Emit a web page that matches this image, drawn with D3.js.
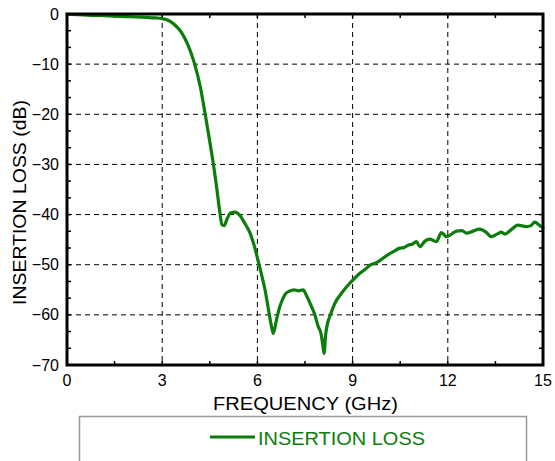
<!DOCTYPE html>
<html>
<head>
<meta charset="utf-8">
<script src="https://cdn.jsdelivr.net/npm/d3@7"></script>
<style>
html,body{margin:0;padding:0;background:#fff;}
svg{display:block;font-family:"Liberation Sans",Arial,sans-serif;}
</style>
</head>
<body>
<svg id="chart" width="555" height="461"></svg>
<script>
// Data (frequency in GHz, insertion loss in dB)
const freq = [0, 0.5, 1, 1.5, 2, 2.5, 2.8, 3, 3.2, 3.4, 3.6, 3.8, 4.0, 4.2, 4.35, 4.5, 4.61, 4.72, 4.82, 4.88, 4.95, 5.05, 5.15, 5.3, 5.45, 5.6, 5.77, 5.9, 6.03, 6.15, 6.24, 6.35, 6.45, 6.5, 6.6, 6.7, 6.8, 6.9, 7.0, 7.15, 7.3, 7.44, 7.55, 7.66, 7.81, 7.92, 8.0, 8.05, 8.1, 8.15, 8.2, 8.3, 8.44, 8.65, 8.91, 9.08, 9.23, 9.4, 9.55, 9.75, 9.96, 10.12, 10.28, 10.49, 10.62, 10.75, 10.88, 11.01, 11.12, 11.28, 11.43, 11.64, 11.8, 11.96, 12.12, 12.27, 12.45, 12.59, 12.8, 13.0, 13.2, 13.37, 13.55, 13.69, 13.79, 14.0, 14.21, 14.47, 14.62, 14.74, 14.9, 15.0];
const loss = [-0.05, -0.2, -0.3, -0.42, -0.55, -0.68, -0.78, -0.92, -1.3, -2.2, -3.6, -6.0, -9.5, -14.5, -19.8, -25.5, -29.8, -34.8, -39.7, -42.0, -42.2, -40.8, -39.7, -39.5, -40.2, -41.7, -43.7, -46.2, -49.4, -52.5, -55.0, -59.0, -62.5, -63.7, -61.0, -58.5, -56.8, -55.7, -55.3, -55.0, -55.2, -55.0, -56.2, -57.7, -60.0, -62.4, -63.6, -65.5, -67.7, -64.0, -62.0, -60.0, -57.7, -55.7, -53.7, -52.6, -51.7, -50.9, -50.1, -49.6, -48.7, -48.0, -47.4, -46.7, -46.6, -46.1, -45.9, -45.4, -46.4, -45.3, -44.9, -45.4, -43.6, -44.4, -43.9, -43.3, -43.2, -43.7, -43.3, -42.9, -43.5, -44.4, -43.9, -43.5, -43.9, -43.0, -42.1, -42.4, -42.2, -41.5, -42.2, -42.6];
const xTicks = [0, 3, 6, 9, 12, 15];
const yTicks = [0, -10, -20, -30, -40, -50, -60, -70];
const xTitle = "FREQUENCY (GHz)";
const yTitle = "INSERTION LOSS (dB)";
const seriesName = "INSERTION LOSS";

const svg = d3.select("#chart");
const L = 67, R = 543, T = 14, B = 365;
const x = d3.scaleLinear().domain([0, 15]).range([L, R]);
const y = d3.scaleLinear().domain([-70, 0]).range([B, T]);
const green = "#0b7d0b";

// grid
const g = svg.append("g");
g.selectAll(".vg").data(xTicks.filter(d => d > 0 && d < 15)).enter().append("line")
  .attr("x1", d => x(d)).attr("x2", d => x(d)).attr("y1", T).attr("y2", B)
  .attr("stroke", "#000").attr("stroke-width", 1).attr("stroke-dasharray", "5,4");
g.selectAll(".hg").data(yTicks.filter(d => d < 0 && d > -70)).enter().append("line")
  .attr("x1", L).attr("x2", R).attr("y1", d => y(d)).attr("y2", d => y(d))
  .attr("stroke", "#000").attr("stroke-width", 1).attr("stroke-dasharray", "5,4");

// minor ticks
const xMinor = d3.range(0, 15.01, 1.5);
const yMinor = d3.range(0, 71, 10 / 3).map(v => -v);
xMinor.forEach(v => {
  g.append("line").attr("x1", x(v)).attr("x2", x(v)).attr("y1", B).attr("y2", B - 4).attr("stroke", "#000").attr("stroke-width", 1.5);
  g.append("line").attr("x1", x(v)).attr("x2", x(v)).attr("y1", T).attr("y2", T + 4).attr("stroke", "#000").attr("stroke-width", 1.5);
});
yMinor.forEach(v => {
  g.append("line").attr("x1", L).attr("x2", L + 4).attr("y1", y(v)).attr("y2", y(v)).attr("stroke", "#000").attr("stroke-width", 1.5);
  g.append("line").attr("x1", R).attr("x2", R - 4).attr("y1", y(v)).attr("y2", y(v)).attr("stroke", "#000").attr("stroke-width", 1.5);
});

// line
const pts = freq.map((f, i) => [f, loss[i]]);
svg.append("path").datum(pts)
  .attr("d", d3.line().x(d => x(d[0])).y(d => y(d[1])).curve(d3.curveMonotoneX))
  .attr("fill", "none").attr("stroke", green).attr("stroke-width", 3.2)
  .attr("stroke-linejoin", "round").attr("stroke-linecap", "round");

// frame
svg.append("rect").attr("x", L).attr("y", T).attr("width", R - L).attr("height", B - T)
  .attr("fill", "none").attr("stroke", "#000").attr("stroke-width", 3);

// axis labels
const fmt = d => String(d).replace("-", "\u2212");
svg.selectAll(".xt").data(xTicks).enter().append("text")
  .attr("x", d => x(d)).attr("y", 386).attr("text-anchor", "middle")
  .attr("font-size", 16).attr("fill", "#000").text(fmt);
svg.selectAll(".yt").data(yTicks).enter().append("text")
  .attr("x", 59).attr("y", d => y(d) + 5.5).attr("text-anchor", "end")
  .attr("font-size", 16).attr("fill", "#000").text(fmt);

svg.append("text").attr("x", 213).attr("y", 410)
  .attr("font-size", 18).attr("textLength", 185).attr("lengthAdjust", "spacingAndGlyphs")
  .attr("fill", "#000").text(xTitle);
svg.append("text").attr("transform", "translate(26,305) rotate(-90)")
  .attr("font-size", 18).attr("textLength", 205).attr("lengthAdjust", "spacingAndGlyphs")
  .attr("fill", "#000").text(yTitle);

// legend
svg.append("rect").attr("x", 79.5).attr("y", 416.5).attr("width", 447).attr("height", 60)
  .attr("fill", "#fff").attr("stroke", "#999").attr("stroke-width", 1.5);
svg.append("line").attr("x1", 210).attr("x2", 255).attr("y1", 437).attr("y2", 437)
  .attr("stroke", green).attr("stroke-width", 3.2);
svg.append("text").attr("x", 258).attr("y", 445)
  .attr("font-size", 19).attr("textLength", 167).attr("lengthAdjust", "spacingAndGlyphs")
  .attr("fill", green).text(seriesName);
</script>
</body>
</html>
